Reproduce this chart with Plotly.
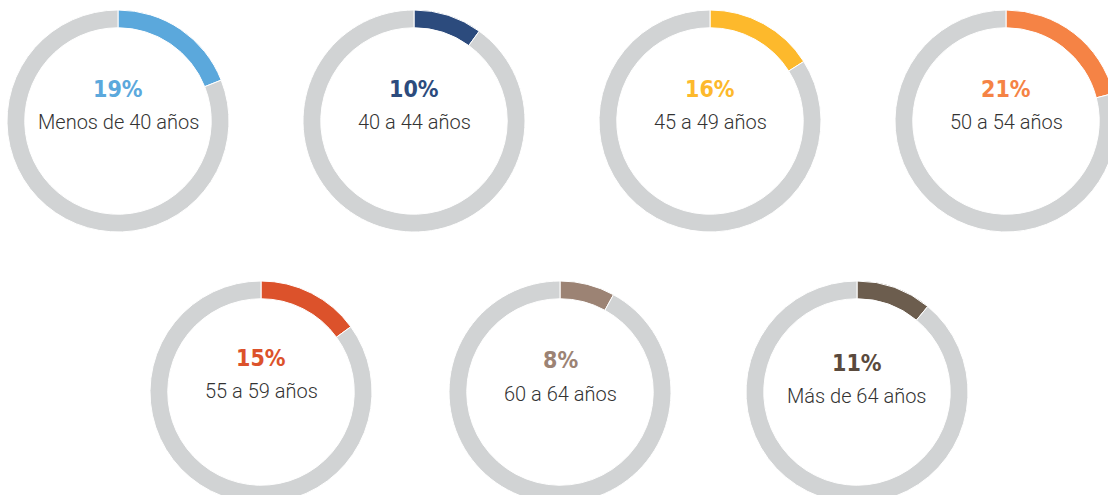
import plotly.graph_objects as go

# ---- data ----
categories = ["Menos de 40 años", "40 a 44 años", "45 a 49 años", "50 a 54 años",
              "55 a 59 años", "60 a 64 años", "Más de 64 años"]
shares = [19, 10, 16, 21, 15, 8, 11]
pct_labels = ["19%", "10%", "16%", "21%", "15%", "8%", "11%"]

# ---- styles / layout ----
colors = ["#5BA8DC", "#2C4B7D", "#FDB92C", "#F58345", "#DC522B", "#9C8374", "#6C5D4E"]
text_colors = ["#5BA8DC", "#2C4B7D", "#FDB92C", "#F58345", "#DC522B", "#9C8374", "#5A4A3D"]
rest_color = "#D1D3D4"
W, H = 1117, 504          # slightly larger than the window: outer rings are cropped by it
R = 111
centers = [(118, 121), (414, 121), (710, 121), (1006, 121),
           (261, 392), (560, 392), (857, 392)]
pct_y = [89, 89, 89, 89, 358, 360, 363]
lab_y = [122, 122, 122, 122, 391, 394, 396]

fig = go.Figure()
annotations = []
for i, cat in enumerate(categories):
    cx, cy = centers[i]
    x0, x1 = max(cx - R, 0), min(cx + R, W)
    y0, y1 = max(cy - R, 0), min(cy + R, H)
    fig.add_trace(go.Pie(
        values=[shares[i], 100 - shares[i]],
        labels=[cat, "Resto"],
        hole=0.84,
        sort=False,
        direction="clockwise",
        rotation=0,
        marker=dict(colors=[colors[i], rest_color], line=dict(color="white", width=1)),
        textinfo="none",
        hoverinfo="skip",
        showlegend=False,
        domain=dict(x=[x0 / W, x1 / W], y=[1 - y1 / H, 1 - y0 / H]),
    ))
    annotations.append(dict(
        x=cx / W, y=1 - pct_y[i] / H, xref="paper", yref="paper",
        text=f"<b>{pct_labels[i]}</b>", showarrow=False,
        xanchor="center", yanchor="middle",
        font=dict(family="DejaVu Sans Condensed, Roboto, sans-serif", size=23,
                  color=text_colors[i]),
    ))
    annotations.append(dict(
        x=cx / W, y=1 - lab_y[i] / H, xref="paper", yref="paper",
        text=cat, showarrow=False,
        xanchor="center", yanchor="middle",
        font=dict(family="Roboto", size=20, weight=300, color="#333333"),
    ))

fig.update_layout(
    width=W, height=H,
    margin=dict(l=0, r=0, t=0, b=0),
    paper_bgcolor="white", plot_bgcolor="white",
    annotations=annotations,
)

page_css = ("document.documentElement.style.overflow='hidden';"
            "document.body.style.overflow='hidden';"
            "document.body.style.margin='0';")
fig.write_html("out.html", post_script=page_css,
               config={"displayModeBar": False, "staticPlot": True})
